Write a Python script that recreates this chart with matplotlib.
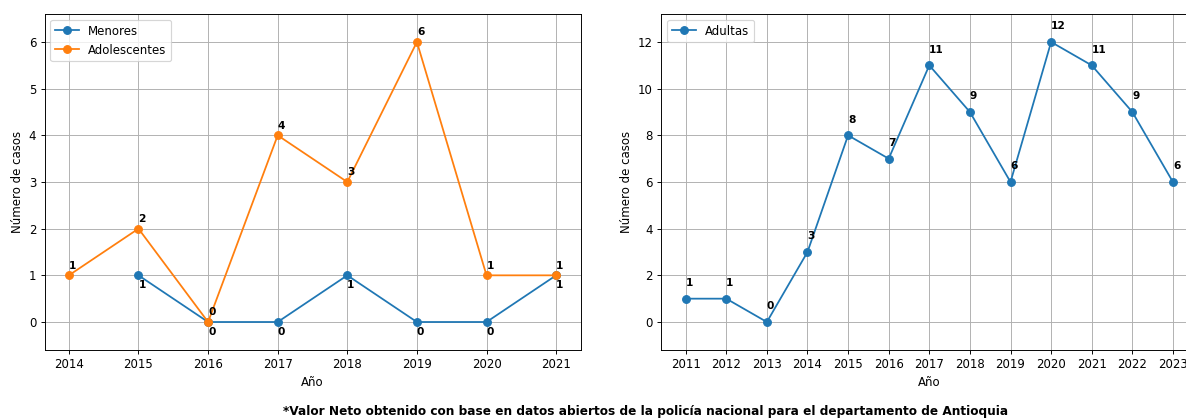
import matplotlib.pyplot as plt

anios_men = [2015, 2016, 2017, 2018, 2019, 2020, 2021]
menores = [1, 0, 0, 1, 0, 0, 1]
anios_ado = [2014, 2015, 2016, 2017, 2018, 2019, 2020, 2021]
adolescentes = [1, 2, 0, 4, 3, 6, 1, 1]
anios_adu = list(range(2011, 2024))
adultas = [1, 1, 0, 3, 8, 7, 11, 9, 6, 12, 11, 9, 6]

fig = plt.figure(figsize=(1186 / 85, 419 / 85), dpi=85)
W, H = 1186, 419
ax1 = fig.add_axes([44.5 / W, (H - 350) / H, 536 / W, 336 / H])
ax2 = fig.add_axes([661.3 / W, (H - 350) / H, 536 / W, 336 / H])

# menores y adolescentes
ax1.plot(anios_men, menores, marker='o', markersize=6.5, label='Menores')
ax1.plot(anios_ado, adolescentes, marker='o', markersize=6.5, label='Adolescentes')
for x, y in zip(anios_men, menores):
    ax1.annotate(str(y), (x, y), xytext=(0, -4), textcoords='offset points',
                 ha='left', va='top', fontsize=9, fontweight='bold')
for x, y in zip(anios_ado, adolescentes):
    ax1.annotate(str(y), (x, y), xytext=(0, 4), textcoords='offset points',
                 ha='left', va='bottom', fontsize=9, fontweight='bold')
ax1.set_ylim(-0.6, 6.6)
ax1.set_xlabel('Año')
ax1.set_ylabel('Número de casos')
ax1.legend(loc='upper left')
ax1.grid(True)

# adultas
ax2.plot(anios_adu, adultas, marker='o', markersize=6.5, label='Adultas')
for x, y in zip(anios_adu, adultas):
    ax2.annotate(str(y), (x, y), xytext=(0, 9), textcoords='offset points',
                 ha='left', va='bottom', fontsize=9, fontweight='bold')
ax2.set_xticks(anios_adu)
ax2.set_ylim(-1.2, 13.2)
ax2.set_xlabel('Año')
ax2.set_ylabel('Número de casos')
ax2.legend(loc='upper left')
ax2.grid(True)

fig.text(646 / W, 1 - 411 / H, '*Valor Neto obtenido con base en datos abiertos de la policía nacional para el departamento de Antioquia',
         ha='center', va='center', fontsize=10.3, fontweight='bold')

fig.savefig('out.png', dpi=85)
